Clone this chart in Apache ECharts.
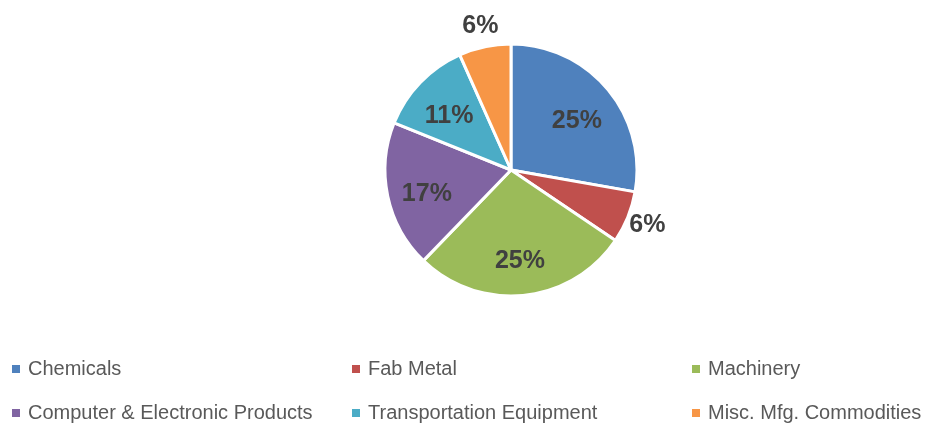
<!DOCTYPE html>
<html>
<head>
<meta charset="utf-8">
<script src="https://cdn.jsdelivr.net/npm/echarts@6/dist/echarts.min.js"></script>
<style>
  html, body { margin: 0; padding: 0; background: #fff; }
  #chart { width: 948px; height: 426px; }
</style>
</head>
<body>
<div id="chart"></div>
<script>
const categories = ["Chemicals", "Fab Metal", "Machinery", "Computer & Electronic Products", "Transportation Equipment", "Misc. Mfg. Commodities"];
const shares = [25, 6, 25, 17, 11, 6];
const colors = ["#4F81BD", "#C0504D", "#9BBB59", "#8064A2", "#4BACC6", "#F79646"];
// small slices get their label outside the pie
const outsideLabel = [false, true, false, false, false, true];

const font = "'Liberation Sans', Arial, sans-serif";
const center = [511, 170];

const pieData = categories.map((name, i) => ({ name: name, value: shares[i] }));

// invisible ring used only to place labels
function labelData(showOutside) {
  return categories.map((name, i) => ({
    name: name,
    value: shares[i],
    itemStyle: { color: "transparent", borderWidth: 0 },
    label: { show: outsideLabel[i] === showOutside }
  }));
}

function labelStyle(dy) {
  return {
    position: "inside",
    formatter: "{c}%",
    fontFamily: font,
    fontWeight: "bold",
    fontSize: 25,
    color: "#404040",
    offset: [0, dy]
  };
}

function legendCol(left, names) {
  return {
    orient: "vertical",
    left: left,
    top: 357,
    padding: 0,
    itemWidth: 8,
    itemHeight: 8,
    itemGap: 20,
    icon: "rect",
    itemStyle: { borderWidth: 0 },
    selectedMode: false,
    data: names,
    textStyle: {
      fontFamily: font,
      fontSize: 20,
      color: "#595959",
      lineHeight: 24,
      padding: [0, 0, 0, 3]
    }
  };
}

const chart = echarts.init(document.getElementById("chart"));
chart.setOption({
  animation: false,
  color: colors,
  legend: [
    legendCol(12, [categories[0], categories[3]]),
    legendCol(352, [categories[1], categories[4]]),
    legendCol(692, [categories[2], categories[5]])
  ],
  series: [
    {
      type: "pie",
      center: center,
      radius: [0, 126],
      startAngle: 90,
      clockwise: true,
      silent: true,
      itemStyle: { borderColor: "#fff", borderWidth: 3 },
      label: { show: false },
      labelLine: { show: false },
      data: pieData
    },
    {
      type: "pie",
      center: center,
      radius: [0, 166],
      startAngle: 90,
      silent: true,
      label: labelStyle(6),
      labelLine: { show: false },
      data: labelData(false)
    },
    {
      type: "pie",
      center: center,
      radius: [130, 158],
      startAngle: 90,
      silent: true,
      label: labelStyle(0),
      labelLine: { show: false },
      data: labelData(true)
    }
  ]
});
</script>
</body>
</html>
